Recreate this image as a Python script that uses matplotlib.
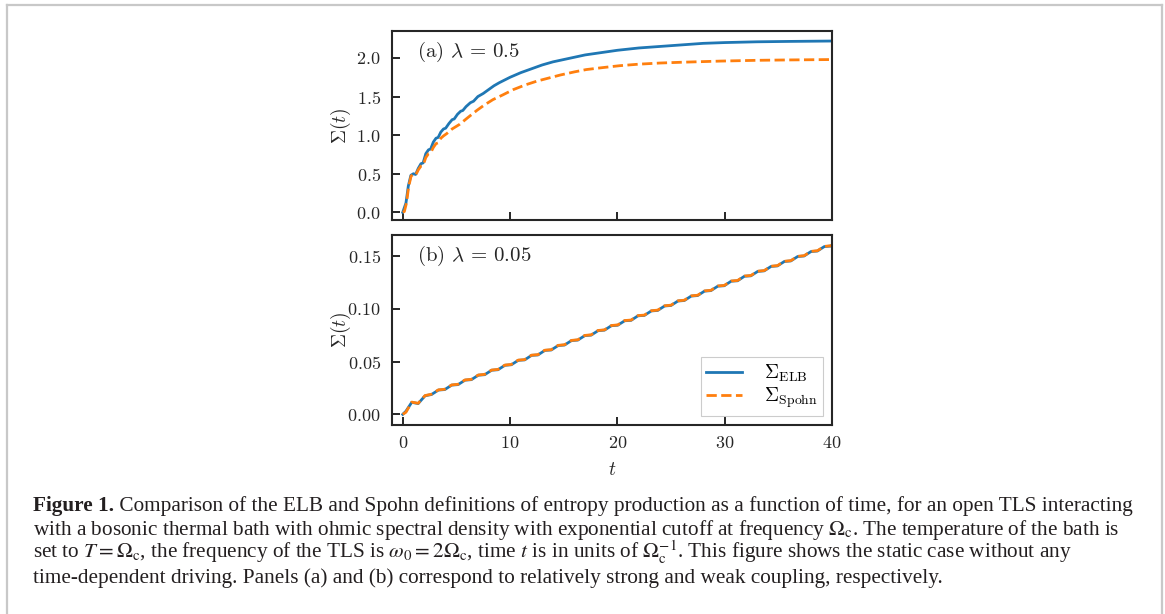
import matplotlib
matplotlib.use('Agg')
import matplotlib.pyplot as plt
from matplotlib.lines import Line2D

# ---------------- data ----------------
t_a_elb = [0.0, 0.3, 0.52, 0.76, 1.0, 1.2, 1.45, 1.7, 1.9, 2.15, 2.4, 2.6, 2.85, 3.1, 3.3,
           3.55, 3.8, 4.0, 4.3, 4.6, 4.8, 5.1, 5.4, 5.6, 5.9, 6.3, 6.6, 7.0, 7.5, 8.0, 8.5,
           9.0, 10, 11, 12, 13, 14, 15, 16, 17, 18, 20, 22, 24, 26, 28, 30, 33, 36, 40]
sigma_a_elb = [0.0, 0.12, 0.34, 0.48, 0.50, 0.49, 0.57, 0.63, 0.64, 0.76, 0.81, 0.82, 0.91, 0.96, 0.97,
               1.04, 1.08, 1.09, 1.15, 1.20, 1.21, 1.27, 1.31, 1.32, 1.37, 1.42, 1.44, 1.50, 1.54, 1.59, 1.64,
               1.68, 1.75, 1.81, 1.86, 1.91, 1.95, 1.98, 2.01, 2.04, 2.06, 2.10, 2.13, 2.15, 2.17, 2.19, 2.20,
               2.21, 2.215, 2.22]

t_a_spohn = [0.0, 0.15, 0.35, 0.55, 0.78, 1.0, 1.2, 1.45, 1.7, 1.9, 2.15, 2.4, 2.6, 2.85, 3.1, 3.3,
             3.55, 3.8, 4.1, 4.6, 5.3, 6.0, 6.9, 7.6, 8.4, 9.3, 10.3, 11.4, 12.5, 13.6, 14.7, 16,
             17.1, 18.6, 20.2, 22, 24, 26, 29.6, 33, 36, 40]
sigma_a_spohn = [0.0, 0.01, 0.12, 0.33, 0.47, 0.49, 0.48, 0.55, 0.60, 0.61, 0.71, 0.76, 0.77, 0.84, 0.89, 0.90,
                 0.96, 0.99, 1.02, 1.08, 1.14, 1.22, 1.32, 1.39, 1.46, 1.52, 1.59, 1.65, 1.70, 1.74, 1.78, 1.82,
                 1.85, 1.875, 1.90, 1.92, 1.935, 1.945, 1.96, 1.97, 1.975, 1.98]

t_b = [0.0, 0.3, 0.84, 1.44, 2.08, 2.68, 3.32, 3.92, 4.56, 5.16, 5.80, 6.40, 7.04, 7.64, 8.28, 8.88,
       9.52, 10.12, 10.76, 11.36, 12.00, 12.60, 13.24, 13.84, 14.48, 15.08, 15.72, 16.32, 16.96, 17.56,
       18.20, 18.80, 19.44, 20.04, 20.68, 21.28, 21.92, 22.52, 23.16, 23.76, 24.40, 25.00, 25.64, 26.24,
       26.88, 27.48, 28.12, 28.72, 29.36, 29.96, 30.60, 31.20, 31.84, 32.44, 33.08, 33.68, 34.32, 34.92,
       35.56, 36.16, 36.80, 37.40, 38.04, 38.64, 39.28, 39.88, 40.0]
sigma_b_elb = [0.0, 0.003, 0.0114, 0.0102, 0.0176, 0.0188, 0.0230, 0.0235, 0.0277, 0.0282, 0.0324, 0.0329,
               0.0371, 0.0376, 0.0418, 0.0423, 0.0465, 0.0470, 0.0512, 0.0516, 0.0559, 0.0563, 0.0606, 0.0610,
               0.0652, 0.0657, 0.0699, 0.0704, 0.0746, 0.0751, 0.0793, 0.0798, 0.0840, 0.0845, 0.0887, 0.0891,
               0.0934, 0.0938, 0.0980, 0.0985, 0.1027, 0.1032, 0.1074, 0.1079, 0.1121, 0.1126, 0.1168, 0.1173,
               0.1215, 0.1219, 0.1262, 0.1266, 0.1309, 0.1313, 0.1355, 0.1360, 0.1402, 0.1407, 0.1449, 0.1454,
               0.1496, 0.1501, 0.1543, 0.1548, 0.1590, 0.1595, 0.1602]
sigma_b_spohn = [0.0, 0.002, 0.0116, 0.0105, 0.0178, 0.0191, 0.0232, 0.0238, 0.0279, 0.0285, 0.0326, 0.0332,
                 0.0373, 0.0379, 0.0420, 0.0426, 0.0467, 0.0473, 0.0514, 0.0519, 0.0561, 0.0566, 0.0608, 0.0613,
                 0.0654, 0.0660, 0.0701, 0.0707, 0.0748, 0.0754, 0.0795, 0.0801, 0.0842, 0.0848, 0.0889, 0.0894,
                 0.0936, 0.0941, 0.0982, 0.0988, 0.1029, 0.1035, 0.1076, 0.1082, 0.1123, 0.1129, 0.1170, 0.1176,
                 0.1217, 0.1222, 0.1264, 0.1269, 0.1311, 0.1316, 0.1357, 0.1363, 0.1404, 0.1410, 0.1451, 0.1457,
                 0.1498, 0.1504, 0.1545, 0.1551, 0.1592, 0.1598, 0.1604]

panel_labels = [r'(a) $\lambda\,=\,0.5$', r'(b) $\lambda\,=\,0.05$']
legend_labels = [r'$\Sigma_{\rm ELB}$', r'$\Sigma_{\rm Spohn}$']
yticks_a = [0.0, 0.5, 1.0, 1.5, 2.0]
yticks_b = [0.00, 0.05, 0.10, 0.15]
xticks = [0, 10, 20, 30, 40]
xlim = (-1, 40)

caption_bold = 'Figure 1.'
caption_lines = [
    ' Comparison of the ELB and Spohn definitions of entropy production as a function of time, for an open TLS interacting',
    r'with a bosonic thermal bath with ohmic spectral density with exponential cutoff at frequency $\Omega_{\mathrm{c}}$. The temperature of the bath is',
    r'set to $T = \Omega_{\mathrm{c}}$, the frequency of the TLS is $\omega_0 = 2\Omega_{\mathrm{c}}$, time $t$ is in units of $\Omega_{\mathrm{c}}^{-1}$. This figure shows the static case without any',
    'time-dependent driving. Panels (a) and (b) correspond to relatively strong and weak coupling, respectively.',
]

# ---------------- style ----------------
plt.rcParams.update({
    'font.family': 'serif',
    'font.serif': ['cmr10'],
    'mathtext.fontset': 'cm',
    'axes.unicode_minus': False,
    'axes.formatter.use_mathtext': True,
})

BLUE = '#1f77b4'
ORANGE = '#ff7f0e'
DARK = '#262626'
W, H = 1165, 614

fig = plt.figure(figsize=(W / 100, H / 100), dpi=100)


def rect(l, t, r, b):
    return [l / W, 1 - b / H, (r - l) / W, (b - t) / H]


ax1 = fig.add_axes(rect(392, 31, 832, 220))
ax2 = fig.add_axes(rect(392, 235, 832, 425), sharex=ax1)

ax1.plot(t_a_elb, sigma_a_elb, color=BLUE, lw=2.0, label=legend_labels[0])
ax1.plot(t_a_spohn, sigma_a_spohn, color=ORANGE, lw=2.0, ls='--', label=legend_labels[1])
ax2.plot(t_b, sigma_b_elb, color=BLUE, lw=2.0, label=legend_labels[0])
ax2.plot(t_b, sigma_b_spohn, color=ORANGE, lw=2.0, ls='--', label=legend_labels[1])

ax1.set_xlim(*xlim)
ax1.set_xticks(xticks)
ax1.set_yticks(yticks_a)
ax2.set_yticks(yticks_b)
ax1.set_ylim(-0.1, 2.35)
ax2.set_ylim(-0.0101, 0.170)

for ax, lab in zip((ax1, ax2), panel_labels):
    for s in ax.spines.values():
        s.set_linewidth(1.5)
        s.set_color(DARK)
    ax.tick_params(direction='in', length=6, width=1.4, pad=8, labelsize=13,
                   color=DARK, labelcolor=DARK)
    ax.set_ylabel(r'$\Sigma(t)$', fontsize=14, color=DARK)
    ax.yaxis.set_label_coords(-0.089, 0.5)
    ax.text(0.057, 0.89, lab, transform=ax.transAxes, fontsize=15, va='center', ha='left', color=DARK)

ax1.tick_params(labelbottom=False)
ax2.tick_params(axis='x', pad=7)
ax2.set_xlabel(r'$t$', fontsize=14, color=DARK)
ax2.xaxis.set_label_coords(0.5, -0.19)

leg = ax2.legend(loc='lower right', fancybox=False, edgecolor='#cccccc', framealpha=1,
                 fontsize=14, handlelength=1.85, borderaxespad=0.45, labelspacing=0.1,
                 handletextpad=1.1, borderpad=0.3)
leg.get_frame().set_linewidth(0.8)

# outer frame of the figure panel
fc = '#c8c8c8'
x0, x1, y0 = 6.5 / W, 1161.5 / W, 1 - 4.5 / H
for xs, ys in (([x0, x0], [y0, -0.05]), ([x0, x1], [y0, y0]), ([x1, x1], [y0, -0.05])):
    fig.add_artist(Line2D(xs, ys, transform=fig.transFigure, color=fc, lw=1.6))

# ---------------- caption ----------------
cap_kw = dict(family='Liberation Serif', math_fontfamily='stix', color='#231f20', va='baseline', ha='left')
baselines = [511.5, 535, 559, 582.5]
left = 33
fs = 14.0
renderer = fig.canvas.get_renderer()

tb = fig.text(left / W, 1 - baselines[0] / H, caption_bold, fontsize=fs, fontweight='bold', **cap_kw)
bb = tb.get_window_extent(renderer)
t1 = fig.text(bb.x1 / W, 1 - baselines[0] / H, caption_lines[0], fontsize=fs, **cap_kw)
right = t1.get_window_extent(renderer).x1
scale = (1139 - left) / (right - left)
fs2 = fs * scale
tb.set_fontsize(fs2)
bb = tb.get_window_extent(renderer)
t1.set_fontsize(fs2)
t1.set_x(bb.x1 / W)
for line, bl in zip(caption_lines[1:], baselines[1:]):
    fig.text(left / W, 1 - bl / H, line, fontsize=fs2, **cap_kw)

fig.savefig('out.png', dpi=100)
